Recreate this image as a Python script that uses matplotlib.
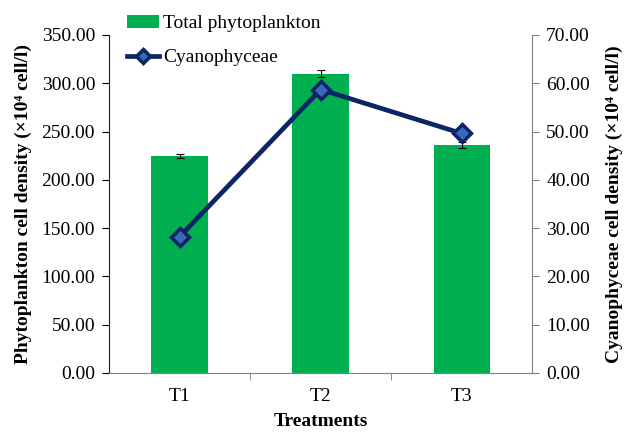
import matplotlib
matplotlib.use("Agg")
import matplotlib.pyplot as plt
import numpy as np

plt.rcParams['font.family'] = ['Liberation Serif', 'DejaVu Serif']

treatments = ["T1", "T2", "T3"]
total_phyto = [225.0, 310.0, 236.0]
total_phyto_err = [2.0, 3.5, 3.0]
cyano = [28.2, 58.7, 49.6]

green = "#00b050"
navy = "#0b2565"

fig = plt.figure(figsize=(6.3, 4.32), dpi=100)
ax = fig.add_axes([0.173, 0.137, 0.672, 0.782])
x = np.arange(len(treatments))

bars = ax.bar(x, total_phyto, width=0.4, color=green, zorder=2,
              label="Total phytoplankton")
ax.errorbar(x, total_phyto, yerr=total_phyto_err, fmt="none", ecolor="black",
            elinewidth=0.8, capsize=3, capthick=0.8, zorder=3)

ax.set_xlim(-0.5, 2.5)
ax.set_ylim(0, 350)
left_ticks = np.arange(0, 351, 50)
ax.set_yticks(left_ticks)
ax.set_yticklabels([f"{v:.2f}" for v in left_ticks])
ax.set_xticks(x)
ax.set_xticklabels(treatments)
ax.set_xticks([0.5, 1.5], minor=True)
ax.tick_params(axis="x", which="major", length=0, labelsize=14, pad=11)
ax.tick_params(axis="x", which="minor", length=5, color="#808080")
ax.tick_params(axis="y", labelsize=14, length=5, direction="out", pad=5)
for side in ["top", "right"]:
    ax.spines[side].set_visible(False)
ax.spines["bottom"].set_color("#808080")
ax.spines["left"].set_color("#202020")

ax.set_xlabel("Treatments", fontsize=14, fontweight="bold", labelpad=6)
ax.set_ylabel("Phytoplankton cell density (×10⁴ cell/l)",
              fontsize=14, fontweight="bold", labelpad=7)

ax2 = ax.twinx()
line, = ax2.plot(x, cyano, color=navy, lw=3.4, marker="D", markersize=9,
                 markerfacecolor="#3a68b8", markeredgecolor=navy,
                 markeredgewidth=2.5, zorder=4, label="Cyanophyceae")
ax2.set_ylim(0, 70)
right_ticks = np.arange(0, 71, 10)
ax2.set_yticks(right_ticks)
ax2.set_yticklabels([f"{v:.2f}" for v in right_ticks])
ax2.tick_params(axis="y", labelsize=14, length=5, color="#808080", pad=5)
for side in ["top", "left", "bottom"]:
    ax2.spines[side].set_visible(False)
ax2.spines["right"].set_color("#808080")
ax2.set_ylabel("Cyanophyceae cell density (×10⁴ cell/l)",
               fontsize=14, fontweight="bold", labelpad=11)

fig.legend([bars, line], ["Total phytoplankton", "Cyanophyceae"],
           loc="upper left", bbox_to_anchor=(0.183, 0.993), frameon=False,
           fontsize=14, handlelength=1.65, handletextpad=0.2, labelspacing=0.85,
           borderaxespad=0.2, markerscale=0.8)

fig.savefig("out.png", dpi=100)
